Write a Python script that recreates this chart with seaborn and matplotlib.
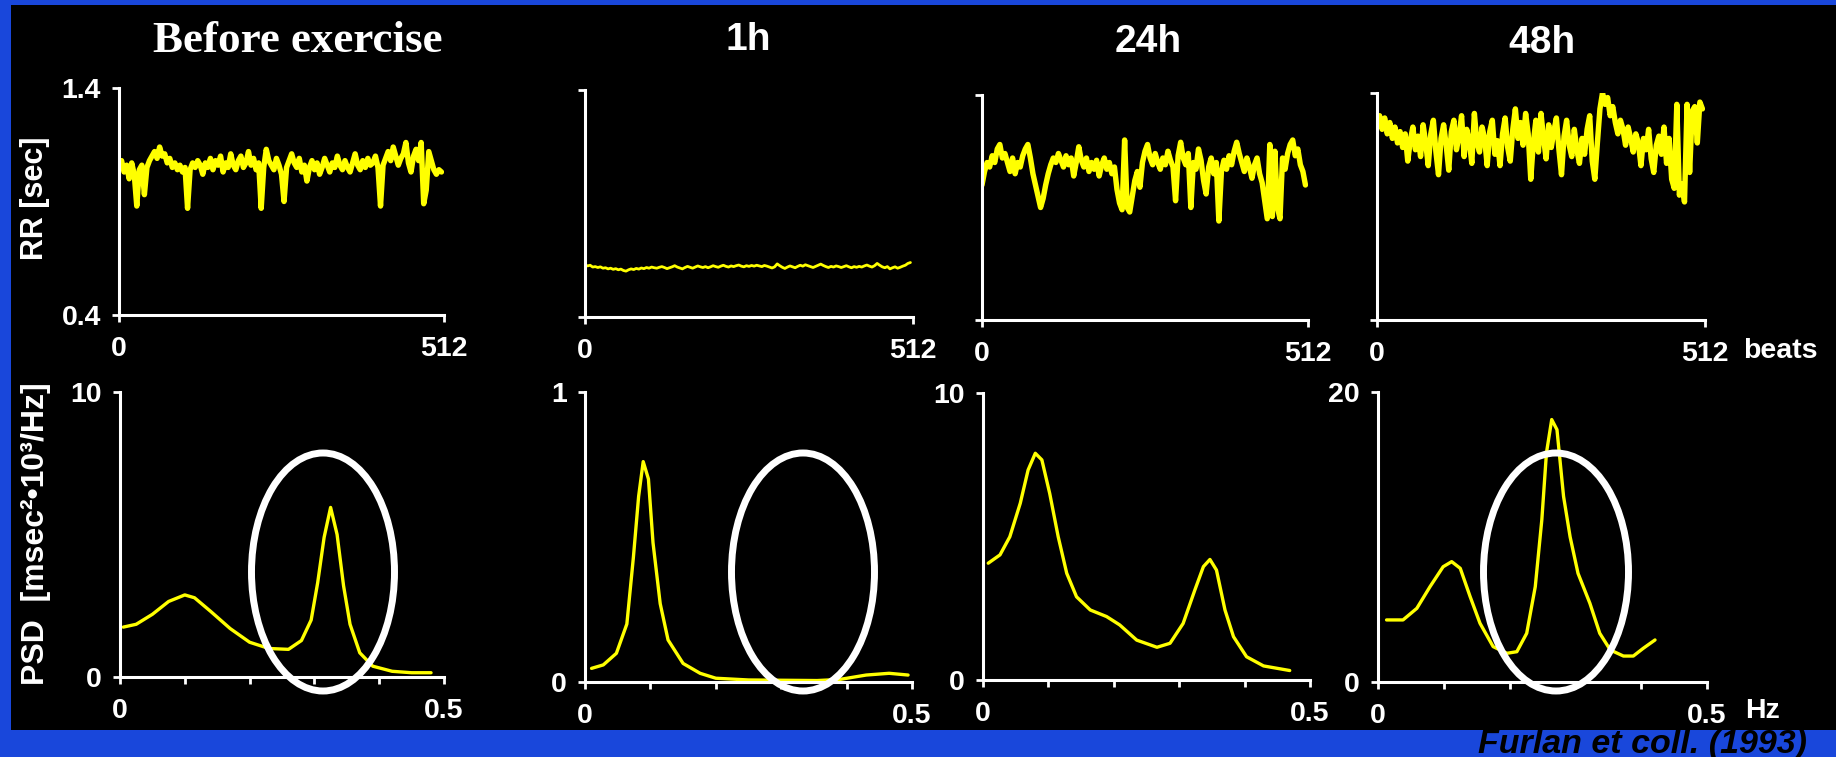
import numpy as np
import pandas as pd
import matplotlib
matplotlib.use("Agg")
import matplotlib.pyplot as plt
import seaborn as sns
from matplotlib.patches import Ellipse, Rectangle

W, H = 1836, 757

titles = ["Before exercise", "1h", "24h", "48h"]

# RR series, one value every 4 beats (0..508)
rr_before = [1.05, 1.08, 1.03, 1.06, 1.00, 1.07, 1.02, 0.88, 1.04, 1.06,
             0.93, 1.05, 1.08, 1.10, 1.12, 1.09, 1.14, 1.10, 1.11, 1.07,
             1.09, 1.05, 1.07, 1.04, 1.06, 1.03, 1.05, 0.87, 1.04, 1.07,
             1.05, 1.08, 1.06, 1.02, 1.07, 1.05, 1.09, 1.04, 1.08, 1.06,
             1.10, 1.03, 1.07, 1.05, 1.11, 1.06, 1.04, 1.08, 1.10, 1.05,
             1.07, 1.12, 1.06, 1.09, 1.04, 1.07, 0.87, 1.05, 1.13, 1.08,
             1.06, 1.04, 1.09, 1.06, 1.02, 0.90, 1.05, 1.08, 1.11, 1.07,
             1.05, 1.09, 1.03, 1.06, 0.99, 1.05, 1.08, 1.04, 1.07, 1.02,
             1.05, 1.09, 1.06, 1.03, 1.07, 1.05, 1.10, 1.06, 1.04, 1.08,
             1.05, 1.03, 1.07, 1.11, 1.06, 1.04, 1.08, 1.05, 1.09, 1.06,
             1.07, 1.10, 1.05, 0.88, 1.06, 1.09, 1.12, 1.08, 1.14, 1.10,
             1.06, 1.09, 1.11, 1.16, 1.07, 1.03, 1.10, 1.13, 1.08, 1.16,
             0.89, 0.95, 1.12, 1.08, 1.04, 1.02, 1.04, 1.03]
rr_1h = [0.630, 0.625, 0.628, 0.620, 0.622, 0.618, 0.621, 0.615, 0.617, 0.612,
         0.615, 0.610, 0.613, 0.608, 0.611, 0.605, 0.602, 0.608, 0.612, 0.609,
         0.614, 0.611, 0.616, 0.613, 0.618, 0.615, 0.620, 0.617, 0.615, 0.619,
         0.622, 0.618, 0.613, 0.617, 0.621, 0.626, 0.620, 0.616, 0.612, 0.618,
         0.623, 0.619, 0.615, 0.620, 0.625, 0.621, 0.618, 0.622, 0.617, 0.621,
         0.626, 0.622, 0.619, 0.624, 0.628, 0.623, 0.620, 0.625, 0.622, 0.626,
         0.629, 0.624, 0.621, 0.626, 0.623, 0.627, 0.624, 0.628, 0.625, 0.622,
         0.627, 0.624, 0.620, 0.616, 0.621, 0.634, 0.626, 0.619, 0.614, 0.620,
         0.625, 0.621, 0.617, 0.623, 0.628, 0.624, 0.630, 0.626, 0.622, 0.618,
         0.623, 0.628, 0.633, 0.627, 0.622, 0.618, 0.623, 0.620, 0.625, 0.622,
         0.618, 0.622, 0.626, 0.621, 0.617, 0.622, 0.619, 0.623, 0.620, 0.625,
         0.629, 0.624, 0.620, 0.626, 0.636, 0.628, 0.621, 0.617, 0.622, 0.612,
         0.617, 0.621, 0.615, 0.619, 0.624, 0.628, 0.636, 0.640]
rr_24h = [1.00, 1.06, 1.10, 1.08, 1.13, 1.10, 1.16, 1.18, 1.12, 1.14,
          1.10, 1.06, 1.12, 1.05, 1.10, 1.08, 1.13, 1.16, 1.18, 1.12,
          1.05, 1.00, 0.95, 0.90, 0.94, 1.00, 1.05, 1.09, 1.12, 1.10,
          1.14, 1.11, 1.08, 1.13, 1.09, 1.12, 1.04, 1.10, 1.17, 1.11,
          1.08, 1.12, 1.06, 1.10, 1.07, 1.11, 1.04, 1.09, 1.12, 1.07,
          1.10, 1.05, 1.08, 0.98, 0.92, 0.89, 1.20, 0.90, 0.88, 0.95,
          1.02, 1.06, 0.99, 1.10, 1.15, 1.18, 1.12, 1.09, 1.14, 1.10,
          1.07, 1.12, 1.09, 1.15, 1.11, 1.08, 0.93, 1.13, 1.19, 1.12,
          1.09, 1.14, 0.90, 1.10, 1.07, 1.16, 1.11, 1.02, 0.96, 1.08,
          1.12, 1.05, 1.10, 0.84, 1.06, 1.11, 1.07, 1.13, 1.09, 1.15,
          1.19, 1.14, 1.10, 1.06, 1.12, 1.08, 1.03, 1.09, 1.12, 1.05,
          1.01, 0.93, 0.85, 1.18, 0.86, 1.15, 0.90, 0.85, 1.12, 1.07,
          1.14, 1.18, 1.20, 1.13, 1.16, 1.09, 1.06, 1.00]
rr_48h = [1.27, 1.30, 1.24, 1.29, 1.22, 1.27, 1.20, 1.25, 1.18, 1.23,
          1.16, 1.22, 1.10, 1.19, 1.25, 1.15, 1.21, 1.12, 1.26, 1.18,
          1.08, 1.22, 1.28, 1.14, 1.04, 1.20, 1.26, 1.17, 1.06, 1.23,
          1.28, 1.15, 1.21, 1.30, 1.12, 1.24, 1.19, 1.09, 1.31, 1.18,
          1.14, 1.25, 1.20, 1.08, 1.23, 1.28, 1.13, 1.19, 1.08, 1.22,
          1.29, 1.16, 1.10, 1.24, 1.33, 1.20, 1.27, 1.17, 1.31, 1.22,
          1.02, 1.18, 1.28, 1.14, 1.31, 1.20, 1.11, 1.26, 1.16, 1.23,
          1.29, 1.15, 1.04, 1.21, 1.28, 1.17, 1.12, 1.24, 1.15, 1.09,
          1.20, 1.13, 1.24, 1.30, 1.10, 1.02, 1.18, 1.33, 1.40, 1.35,
          1.38, 1.30, 1.34, 1.27, 1.22, 1.28, 1.24, 1.17, 1.25, 1.20,
          1.14, 1.22, 1.18, 1.08, 1.20, 1.15, 1.24, 1.11, 1.05, 1.17,
          1.21, 1.13, 1.25, 1.09, 1.20, 1.02, 0.98, 1.35, 0.95, 1.00,
          0.92, 1.35, 1.05, 1.32, 1.34, 1.18, 1.36, 1.33]

# power spectra (Hz, msec^2*10^3/Hz)
f_before = [0.005, 0.025, 0.05, 0.075, 0.1, 0.115, 0.14, 0.17, 0.2, 0.23, 0.26, 0.28,
            0.295, 0.305, 0.315, 0.325, 0.335, 0.345, 0.355, 0.37, 0.39, 0.42, 0.45, 0.48]
psd_before = [1.75, 1.85, 2.2, 2.65, 2.88, 2.78, 2.3, 1.7, 1.22, 1.0, 0.97, 1.28,
              2.0, 3.3, 4.9, 5.95, 5.0, 3.2, 1.85, 0.85, 0.38, 0.2, 0.15, 0.15]
f_1h = [0.01, 0.028, 0.048, 0.064, 0.074, 0.082, 0.089, 0.097, 0.104, 0.115, 0.127,
        0.15, 0.176, 0.2, 0.25, 0.355, 0.39, 0.43, 0.465, 0.494]
psd_1h = [0.047, 0.059, 0.099, 0.20, 0.43, 0.64, 0.76, 0.70, 0.48, 0.27, 0.145,
          0.064, 0.030, 0.013, 0.007, 0.005, 0.009, 0.024, 0.030, 0.024]
f_24h = [0.008, 0.026, 0.041, 0.057, 0.069, 0.08, 0.09, 0.102, 0.115, 0.128, 0.143,
         0.164, 0.189, 0.209, 0.235, 0.266, 0.286, 0.306, 0.324, 0.337, 0.347, 0.357,
         0.37, 0.383, 0.403, 0.429, 0.469]
psd_24h = [4.07, 4.36, 4.99, 6.16, 7.32, 7.90, 7.67, 6.50, 4.99, 3.72, 2.90,
           2.44, 2.21, 1.92, 1.39, 1.14, 1.28, 1.97, 3.14, 3.95, 4.20, 3.83,
           2.44, 1.51, 0.81, 0.49, 0.33]
f_48h = [0.013, 0.038, 0.059, 0.079, 0.099, 0.112, 0.125, 0.14, 0.155, 0.175, 0.196,
         0.211, 0.226, 0.239, 0.249, 0.256, 0.264, 0.272, 0.282, 0.292, 0.304, 0.322,
         0.337, 0.353, 0.373, 0.388, 0.403, 0.421]
psd_48h = [4.28, 4.28, 5.08, 6.57, 7.95, 8.30, 7.84, 5.89, 4.05, 2.44, 1.98,
           2.09, 3.36, 6.57, 11.2, 15.8, 18.1, 17.4, 12.8, 10.0, 7.49, 5.43,
           3.36, 2.21, 1.79, 1.79, 2.32, 2.90]
psd_top = [10, 1, 10, 20]

rr_series = [rr_before, rr_1h, rr_24h, rr_48h]
psd_series = [(f_before, psd_before), (f_1h, psd_1h), (f_24h, psd_24h), (f_48h, psd_48h)]

# panel frames in pixels: left, top, right, bottom
rr_boxes = [(119, 88, 444, 315), (585, 90, 913, 317), (982, 95, 1308, 320), (1377, 93, 1705, 320)]
psd_boxes = [(120, 392, 444, 677), (585, 392, 912, 682), (983, 393, 1310, 680), (1378, 392, 1707, 682)]

sns.set_style("dark")
plt.rcParams["font.family"] = ["Liberation Sans", "DejaVu Sans"]
plt.rcParams["font.weight"] = "bold"

fig = plt.figure(figsize=(W / 100, H / 100), dpi=100)
fig.patch.set_facecolor("#1947DB")
fig.add_artist(Rectangle((11 / W, (H - 730) / H), 1 - 11 / W, (730 - 5) / H,
                         transform=fig.transFigure, facecolor="black",
                         edgecolor="none", zorder=-1))


def add_px_axes(box):
    l, t, r, b = box
    return fig.add_axes([l / W, 1 - b / H, (r - l) / W, (b - t) / H])


def style(ax, xlim, ylim, xticks, xlabels, ylabels):
    ax.set_facecolor("none")
    ax.grid(False)
    for s in ["top", "right"]:
        ax.spines[s].set_visible(False)
    for s in ["left", "bottom"]:
        ax.spines[s].set_visible(True)
        ax.spines[s].set_color("white")
        ax.spines[s].set_linewidth(2.2)
    ax.set_xlim(xlim)
    ax.set_ylim(ylim)
    ax.set_xticks(xticks)
    ax.set_xticklabels(xlabels)
    ax.set_yticks(list(ylim))
    ax.set_yticklabels(ylabels)
    ax.tick_params(colors="white", width=2, length=5, direction="out",
                   labelsize=20.5, bottom=True, left=True)
    ax.tick_params(axis="x", pad=10)
    ax.tick_params(axis="y", pad=8)
    ax.set_xlabel("")
    ax.set_ylabel("")


for i in range(4):
    ax = add_px_axes(rr_boxes[i])
    vals = rr_series[i]
    df = pd.DataFrame({"beat": np.arange(len(vals)) * 4, "rr": vals})
    sns.lineplot(data=df, x="beat", y="rr", ax=ax, color="#FFFF00",
                 linewidth=2.0 if i == 1 else 3.9, estimator=None)
    style(ax, (0, 512), (0.4, 1.4), [0, 512], ["0", "512"],
          ["0.4", "1.4"] if i == 0 else ["", ""])

    ax2 = add_px_axes(psd_boxes[i])
    f, p = psd_series[i]
    dfp = pd.DataFrame({"freq": f, "psd": p})
    sns.lineplot(data=dfp, x="freq", y="psd", ax=ax2, color="#FFFF00",
                 linewidth=2.4, estimator=None)
    ticks = [0, 0.1, 0.2, 0.3, 0.4, 0.5]
    style(ax2, (0, 0.5), (0, psd_top[i]), ticks, ["0", "", "", "", "", "0.5"],
          ["0", str(psd_top[i])])

# titles
fig.text(298 / W, 1 - 52 / H, titles[0], ha="center", va="baseline", color="white",
         fontsize=32.5, family=["Liberation Serif", "DejaVu Serif"], fontweight="bold")
for x, y, t in [(748, 50, titles[1]), (1148, 52, titles[2]), (1542, 53, titles[3])]:
    fig.text(x / W, 1 - y / H, t, ha="center", va="baseline", color="white",
             fontsize=28, fontweight="bold")

fig.text(35 / W, 1 - 198 / H, "RR [sec]", rotation=90, ha="center", va="center",
         color="white", fontsize=22, fontweight="bold")
fig.text(36 / W, 1 - 534 / H, "PSD  [msec²•10³/Hz]", rotation=90, ha="center",
         va="center", color="white", fontsize=23, fontweight="bold")
fig.text(1743 / W, 1 - 351 / H, "beats", ha="left", va="center", color="white",
         fontsize=20.5, fontweight="bold")
fig.text(1745 / W, 1 - 711 / H, "Hz", ha="left", va="center", color="white",
         fontsize=20.5, fontweight="bold")

# white ovals around the HF band
for cx, w in [(323, 143), (803, 143), (1556, 145)]:
    fig.add_artist(Ellipse((cx / W, 1 - 572 / H), w / W, 238 / H,
                           transform=fig.transFigure, facecolor="none",
                           edgecolor="white", linewidth=5, zorder=5))

fig.text(1807 / W, (H - 753) / H, "Furlan et coll. (1993)", ha="right", va="baseline",
         color="black", fontsize=24.5, fontweight="bold", fontstyle="italic", zorder=-2)

fig.savefig("out.png", dpi=100, facecolor=fig.get_facecolor())
